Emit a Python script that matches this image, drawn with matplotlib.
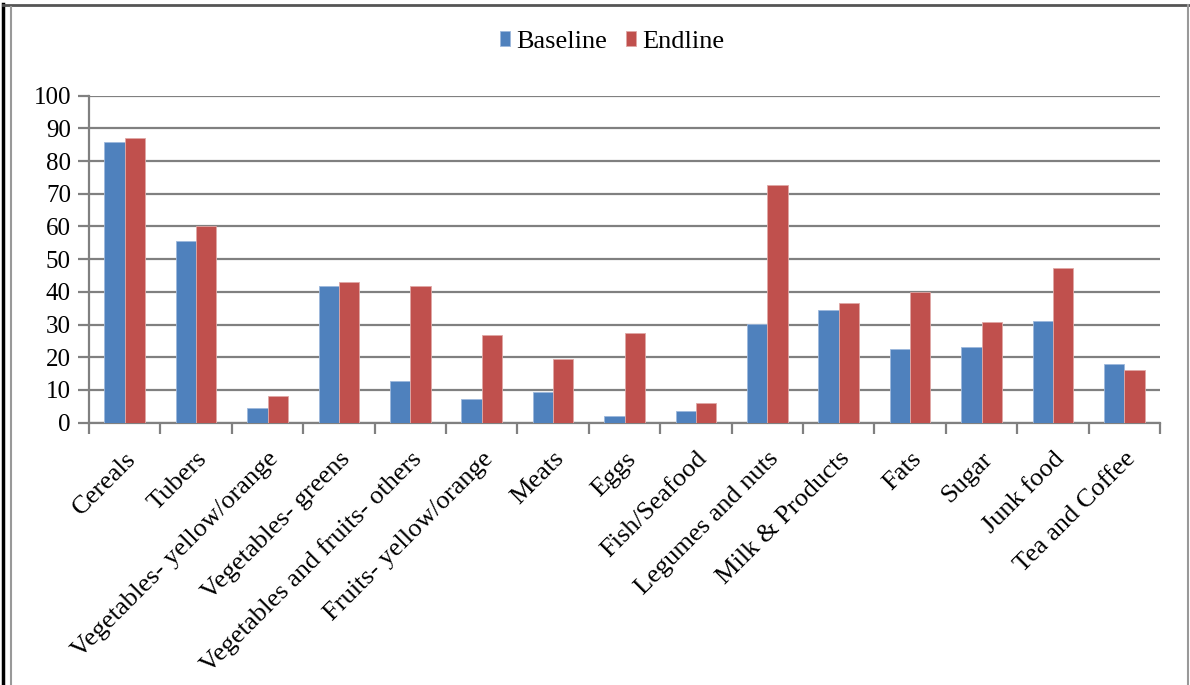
import matplotlib.pyplot as plt
from matplotlib.lines import Line2D
import numpy as np

categories = ['Cereals', 'Tubers', 'Vegetables- yellow/orange', 'Vegetables- greens',
              'Vegetables and fruits- others', 'Fruits- yellow/orange', 'Meats', 'Eggs',
              'Fish/Seafood', 'Legumes and nuts', 'Milk & Products', 'Fats', 'Sugar',
              'Junk food', 'Tea and Coffee']
baseline = [85.7, 55.6, 4.5, 41.9, 12.7, 7.1, 9.4, 2.0, 3.6, 30.2, 34.5, 22.5, 23.2, 31.1, 17.8]
endline = [87.0, 60.0, 8.1, 43.1, 41.7, 26.8, 19.4, 27.3, 5.9, 72.7, 36.7, 40.1, 30.8, 47.3, 16.0]

plt.rcParams['font.family'] = ['Liberation Serif', 'DejaVu Serif']

fig = plt.figure(figsize=(11.9, 6.85), dpi=100)
ax = fig.add_axes([89/1190, 1-422.7/685, (1160-89)/1190, (422.7-95.7)/685])

x = np.arange(len(categories))
w = 0.285
ax.bar(x - w/2, baseline, w, color='#4F81BD', edgecolor='#9DB8DC', linewidth=0.6, label='Baseline', zorder=3)
ax.bar(x + w/2, endline, w, color='#C0504D', edgecolor='#E0A8A6', linewidth=0.6, label='Endline', zorder=3)

ax.set_xlim(-0.5, len(categories) - 0.5)
ax.set_ylim(0, 100)
ax.set_yticks(range(0, 101, 10))
ax.yaxis.grid(True, color='#808080', linewidth=1.6, zorder=0)
ax.tick_params(axis='y', labelsize=18, length=8, width=1.6, color='#808080', pad=5)

# category ticks between groups, labels at centres
ax.set_xticks(np.arange(-0.5, len(categories), 1))
ax.set_xticklabels([])
ax.tick_params(axis='x', length=8, width=1.6, color='#808080')
ax.set_xticks(x, minor=True)
ax.set_xticklabels(categories, minor=True, rotation=45, ha='right', rotation_mode='anchor', fontsize=19)
ax.tick_params(axis='x', which='minor', length=0, pad=18)

for s in ['top', 'right']:
    ax.spines[s].set_visible(False)
for s in ['left', 'bottom']:
    ax.spines[s].set_color('#808080')
    ax.spines[s].set_linewidth(1.6)

fig.legend(loc='center', bbox_to_anchor=(612/1190, 1-42/685), ncol=2, frameon=False,
           fontsize=19, handlelength=0.38, handleheight=0.5, handletextpad=0.25, columnspacing=0.7)

# chart border
fig.add_artist(Line2D([2.5/1190, 2.5/1190], [0, 1-4/685], transform=fig.transFigure, color='black', linewidth=2.5))
fig.add_artist(Line2D([2.5/1190, 1], [1-4.5/685, 1-4.5/685], transform=fig.transFigure, color='#555555', linewidth=2))
fig.add_artist(Line2D([11/1190, 11/1190], [0, 1-7/685], transform=fig.transFigure, color='#999999', linewidth=1.5))
fig.add_artist(Line2D([1188/1190, 1188/1190], [0, 1-5/685], transform=fig.transFigure, color='#999999', linewidth=1.5))

fig.savefig('out.png', dpi=100)
